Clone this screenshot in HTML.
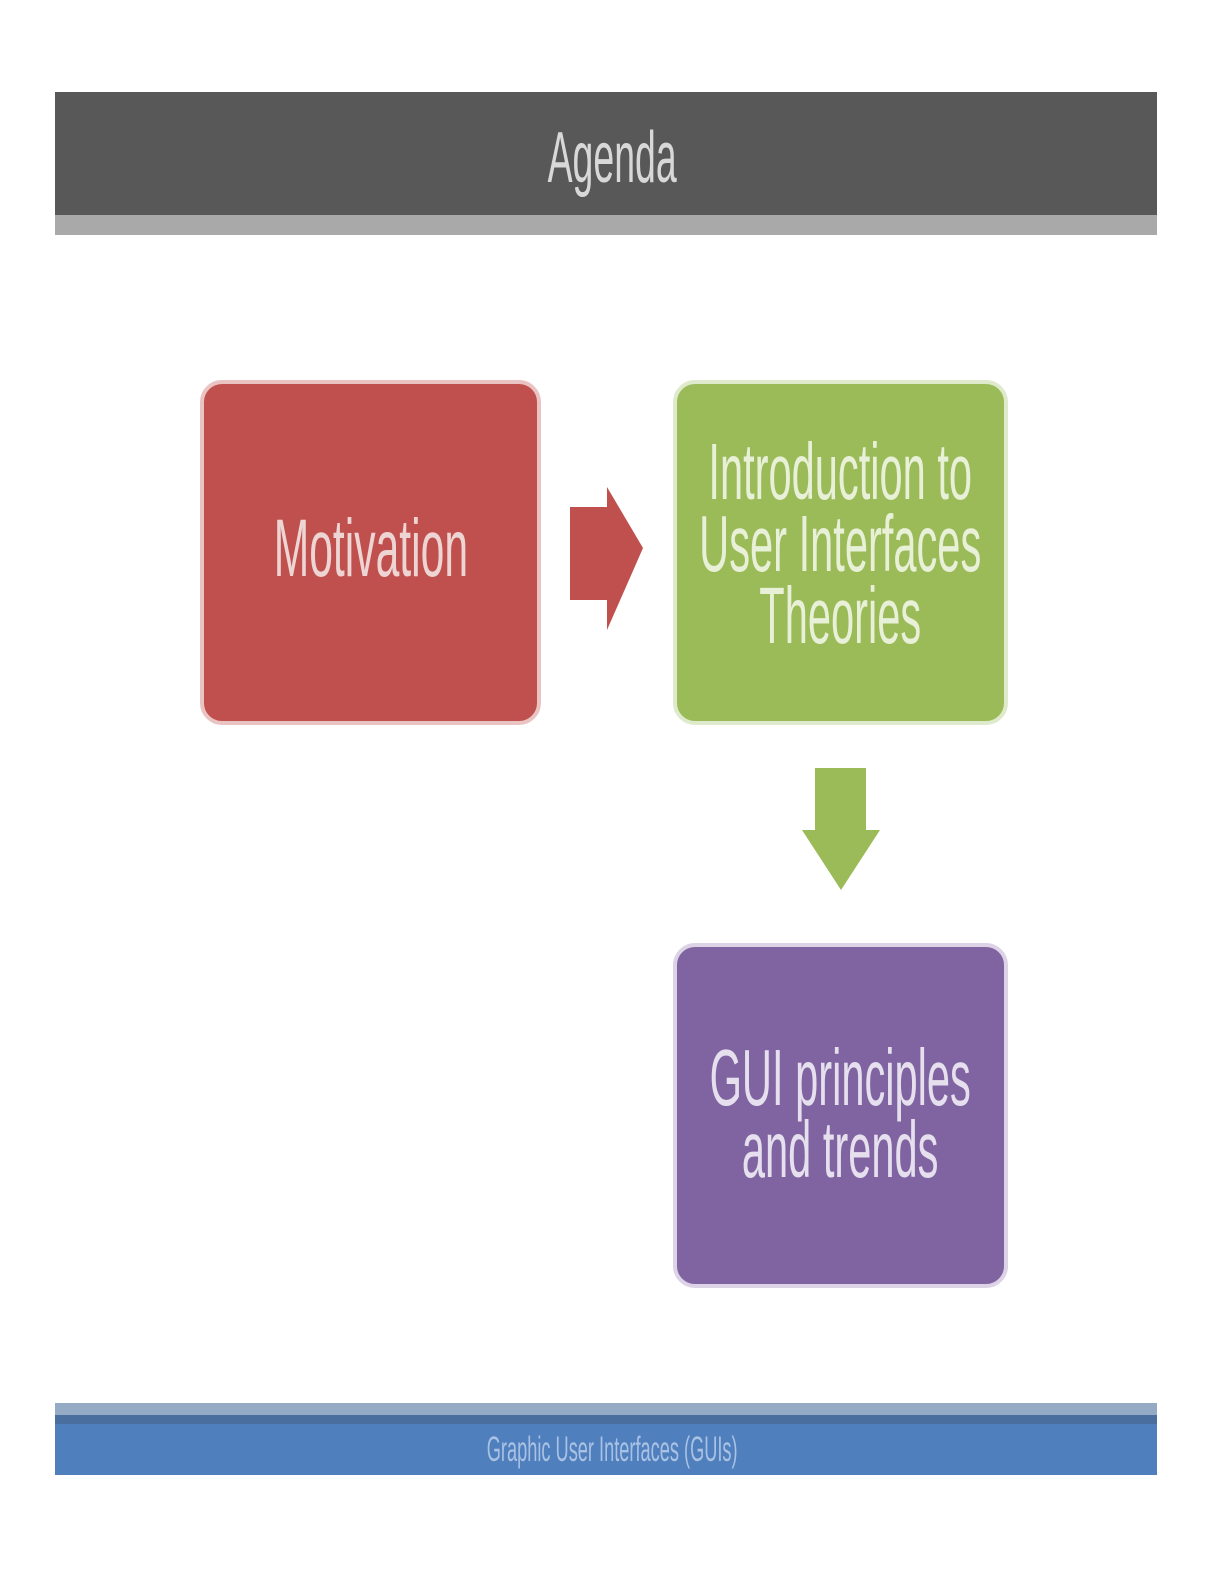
<!DOCTYPE html>
<html><head><meta charset="utf-8"><style>
body{margin:0;width:1224px;height:1584px;background:#fff;position:relative;overflow:hidden;font-family:"Liberation Sans",sans-serif}
.a{position:absolute}
.box{position:absolute;border-radius:22px;border:4px solid}
.t{position:absolute;left:0;width:100%;display:flex;justify-content:center;text-align:center;white-space:nowrap;color:#ecd9d9}
.t span{display:block;flex:none;transform:scaleX(0.52);transform-origin:center}
</style></head><body>
<div class="a" style="left:55px;top:92px;width:1102px;height:123px;background:#585858"></div>
<div class="a" style="left:55px;top:215px;width:1102px;height:20px;background:#a9a9a9"></div>
<div class="t" style="top:118px;font-size:72px;line-height:80px;color:#d8d8d8"><span>Agenda</span></div>

<div class="box" style="left:200px;top:380px;width:333px;height:337px;background:#c0504d;border-color:#e9c4c3"></div>
<div class="t" style="left:200px;width:341px;top:504px;font-size:82px;line-height:90px;color:#edd5d4"><span>Motivation</span></div>

<svg class="a" style="left:0;top:0" width="1224" height="1584">
<polygon points="570,507 607,507 607,487 643,548 607,630 607,600 570,600" fill="#c0504d"/>
<polygon points="815,768 866,768 866,830 880,830 841,890 802,830 815,830" fill="#9bbb59"/>
</svg>

<div class="box" style="left:673px;top:380px;width:327px;height:337px;background:#9bbb59;border-color:#dfeacc"></div>
<div class="t" style="left:673px;width:335px;top:436px;font-size:80px;line-height:72px;color:#e8f0d8"><span>Introduction to<br>User Interfaces<br>Theories</span></div>

<div class="box" style="left:673px;top:943px;width:327px;height:337px;background:#8064a2;border-color:#dcd3e6"></div>
<div class="t" style="left:673px;width:335px;top:1042px;font-size:80px;line-height:72px;color:#e6e0ee"><span>GUI principles<br>and trends</span></div>

<div class="a" style="left:55px;top:1403px;width:1102px;height:12px;background:#95aac4"></div>
<div class="a" style="left:55px;top:1415px;width:1102px;height:9px;background:#4a6f9f"></div>
<div class="a" style="left:55px;top:1424px;width:1102px;height:51px;background:#4f7fbd"></div>
<div class="t" style="top:1432px;font-size:35px;line-height:36px;color:#a9c2e4"><span>Graphic User Interfaces (GUIs)</span></div>
</body></html>
